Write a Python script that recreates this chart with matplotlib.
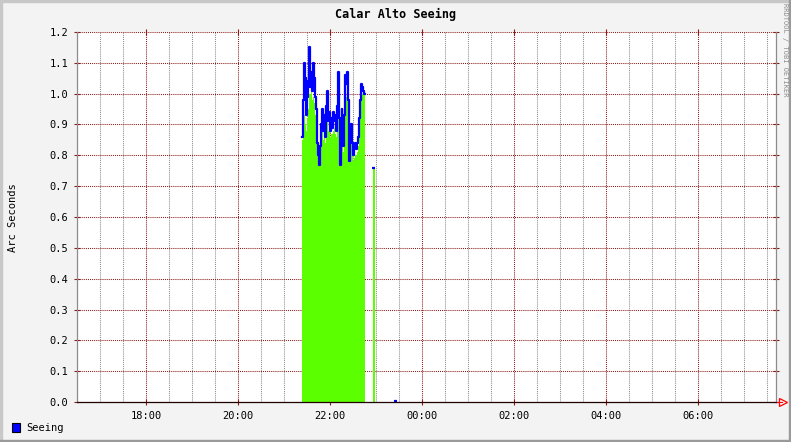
import numpy as np
import matplotlib
matplotlib.use('Agg')
import matplotlib.pyplot as plt
from matplotlib.patches import Rectangle

# seeing samples, one every 1.3 min starting 21:23
start_hour = 21 + 23 / 60.0
step_min = 1.3
seeing_line = [0.86, 0.98, 1.10, 1.05, 0.93, 0.99, 1.04, 1.15, 1.02, 1.07,
               1.01, 1.10, 1.05, 0.99, 0.95, 0.84, 0.80, 0.77, 0.83, 0.90,
               0.95, 0.88, 0.93, 0.86, 0.96, 1.01, 0.91, 0.94, 0.88, 0.92,
               0.89, 0.94, 0.93, 0.91, 0.88, 0.96, 1.07, 0.92, 0.77, 0.86,
               0.95, 0.91, 0.83, 0.93, 1.06, 1.03, 1.07, 0.98, 0.78, 0.87,
               0.90, 0.84, 0.80, 0.83, 0.84, 0.82, 0.84, 0.86, 0.92, 0.98,
               1.03, 1.02, 1.01, 1.00]
seeing_area = [0.85, 0.86, 0.93, 0.90, 0.88, 0.92, 0.95, 1.00, 1.00, 1.01,
               0.98, 0.99, 0.97, 0.93, 0.88, 0.80, 0.78, 0.77, 0.80, 0.85,
               0.88, 0.85, 0.87, 0.84, 0.88, 0.94, 0.88, 0.88, 0.86, 0.87,
               0.87, 0.88, 0.89, 0.87, 0.86, 0.88, 0.97, 0.87, 0.77, 0.82,
               0.88, 0.86, 0.81, 0.85, 0.97, 0.99, 1.01, 0.93, 0.78, 0.81,
               0.84, 0.81, 0.78, 0.79, 0.80, 0.80, 0.81, 0.83, 0.88, 0.93,
               0.98, 1.00, 1.00, 1.00]
# isolated samples later in the night (hours, values)
extra_hours = [22 + 56 / 60.0, 23 + 24 / 60.0]
extra_values = [0.76, 0.004]

tick_hours = [18, 20, 22, 24, 26, 28, 30]
tick_labels = ['18:00', '20:00', '22:00', '00:00', '02:00', '04:00', '06:00']
y_ticks = [0.0, 0.1, 0.2, 0.3, 0.4, 0.5, 0.6, 0.7, 0.8, 0.9, 1.0, 1.1, 1.2]

green = '#5CFF00'
blue = '#0000FF'
major_c = '#8B1A1A'
minor_c = '#8C8C8C'
mono = 'DejaVu Sans Mono'

W, H = 791, 442
fig = plt.figure(figsize=(W / 100, H / 100), dpi=100, facecolor='#F3F3F3')

# 3d-ish frame
fig.patches.append(Rectangle((0, 0), 2 / W, 1, transform=fig.transFigure, color='#C8C8C8', zorder=0))
fig.patches.append(Rectangle((0, 1 - 2 / H), 1, 2 / H, transform=fig.transFigure, color='#C8C8C8', zorder=0))
fig.patches.append(Rectangle((0, 0), 1, 2 / H, transform=fig.transFigure, color='#9A9A9A', zorder=0))
fig.patches.append(Rectangle((1 - 2 / W, 0), 2 / W, 1, transform=fig.transFigure, color='#9A9A9A', zorder=0))

x0, x1, y0, y1 = 77, 776, 32, 402
ax = fig.add_axes([x0 / W, 1 - y1 / H, (x1 - x0) / W, (y1 - y0) / H])
ax.set_facecolor('white')

hours = start_hour + np.arange(len(seeing_line)) * step_min / 60.0
t_end = hours[-1] + step_min / 60.0
ax.fill_between(np.append(hours, t_end), np.append(seeing_area, seeing_area[-1]),
                step='post', color=green, lw=0, zorder=2)
ax.plot(np.append(hours, t_end), np.append(seeing_line, seeing_line[-1]),
        drawstyle='steps-post', color=blue, lw=1.6, zorder=3)

w = 2.5 / 60.0
ax.bar(extra_hours[0], extra_values[0], width=w, align='edge', color=green,
       lw=0, zorder=2)
for eh, ev in zip(extra_hours, extra_values):
    ax.plot([eh - 0.01, eh + w + 0.01], [ev, ev], color=blue, lw=1.6, zorder=3,
            solid_capstyle='butt')

xmin = 16.5
ax.set_xlim(xmin, xmin + (x1 - x0) / 46.0)
ax.set_ylim(0, 1.2)

ax.set_xticks(tick_hours)
ax.set_xticklabels(tick_labels)
ax.set_xticks(np.arange(16.5, 32, 0.5), minor=True)
ax.set_yticks(y_ticks)
ax.set_yticklabels(['%.1f' % v for v in y_ticks])

ax.grid(True, which='minor', axis='x', color=minor_c, lw=0.75, ls=(0, (1, 1)), zorder=1)
ax.grid(True, which='major', axis='both', color=major_c, lw=0.75, ls=(0, (1, 1)), zorder=1)
ax.set_axisbelow(True)

ax.tick_params(axis='both', which='major', colors=major_c, labelcolor='black',
               labelsize=7.5, direction='inout', length=5, width=0.8)
ax.tick_params(axis='x', which='major', top=True, pad=4)
ax.tick_params(axis='y', which='major', right=True, pad=4)
ax.tick_params(axis='x', which='minor', length=0)
for lab in ax.get_xticklabels() + ax.get_yticklabels():
    lab.set_family(mono)

for s in ['left', 'right']:
    ax.spines[s].set_color('#8C8C8C')
    ax.spines[s].set_linewidth(0.9)
ax.spines['top'].set_visible(False)
ax.spines['bottom'].set_color('#200000')
ax.spines['bottom'].set_linewidth(0.9)
ax.spines['bottom'].set_zorder(4)

# red arrow at end of x axis
ax.plot([1.0, 1.0 + 6 / (x1 - x0)], [0, 0], transform=ax.transAxes, color='red',
        lw=0.8, clip_on=False)
ax.plot([1.0 + 7 / (x1 - x0)], [0], transform=ax.transAxes, marker='>', ms=6,
        mfc='none', mec='red', mew=0.9, clip_on=False)

fig.text(396 / W, 1 - 14 / H, 'Calar Alto Seeing', ha='center', va='center',
         family=mono, fontsize=8.5, fontweight='bold')
fig.text(13 / W, 1 - 218 / H, 'Arc Seconds', ha='center', va='center',
         rotation=90, family=mono, fontsize=7.5)
fig.text(785 / W, 1 - 50 / H, 'RRDTOOL / TOBI OETIKER', ha='center', va='center',
         rotation=270, family=mono, fontsize=5, color='#8A8A8A')

fig.patches.append(Rectangle((12 / W, 1 - 432 / H), 8 / W, 9 / H, transform=fig.transFigure,
                             facecolor=blue, edgecolor='black', lw=0.8))
fig.text(26 / W, 1 - 428 / H, 'Seeing', ha='left', va='center', family=mono, fontsize=7.5)

fig.savefig('out.png', dpi=100, facecolor=fig.get_facecolor())
